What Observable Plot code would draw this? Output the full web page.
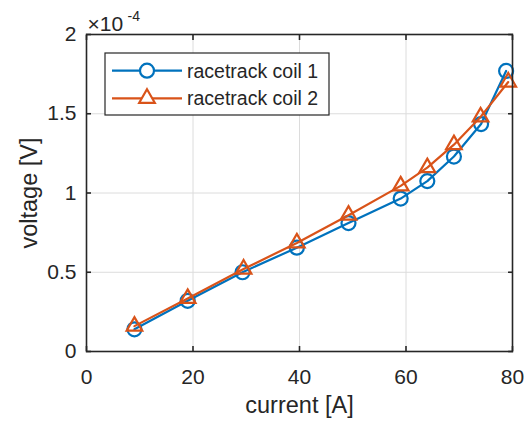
<!DOCTYPE html>
<html><head><meta charset="utf-8">
<script src="https://cdn.jsdelivr.net/npm/d3@7"></script>
<script src="https://cdn.jsdelivr.net/npm/@observablehq/plot@0.6"></script>
<style>html,body{margin:0;padding:0;background:#fff;} #chart{width:528px;height:421px;}</style>
</head><body><div id="chart"></div>
<script>
// current [A] and voltage [×10^-4 V]
const current1 = [9, 19, 29.3, 39.5, 49.2, 59, 64, 69, 74.1, 78.8];
const voltage1 = [0.14, 0.32, 0.50, 0.655, 0.81, 0.965, 1.075, 1.23, 1.435, 1.77];
const current2 = [9, 19, 29.5, 39.5, 49.2, 59, 64, 69, 74, 79.2];
const voltage2 = [0.16, 0.335, 0.52, 0.685, 0.86, 1.045, 1.16, 1.305, 1.48, 1.70];
const seriesNames = ["racetrack coil 1", "racetrack coil 2"];
const xTicks = [0, 20, 40, 60, 80];
const yTicks = [0, 0.5, 1, 1.5, 2];
const yTickLabels = ["0", "0.5", "1", "1.5", "2"];
const xLabel = "current [A]";
const yLabel = "voltage [V]";
const exponentBase = "×10";
const exponentPower = "-4";

const colors = ["#0072BD", "#D95319"];
const ink = "#262626";
const font = "'Liberation Sans', Arial, Helvetica, sans-serif";
const circleR = 7, triR = 5.8, lw = 2.2;

const data1 = current1.map((x, i) => ({x, y: voltage1[i]}));
const data2 = current2.map((x, i) => ({x, y: voltage2[i]}));

const plot = Plot.plot({
  width: 528, height: 421,
  marginLeft: 86, marginRight: 16, marginTop: 34, marginBottom: 70,
  style: {fontFamily: font, color: ink, background: "white", overflow: "visible"},
  x: {domain: [0, 80]},
  y: {domain: [0, 2]},
  marks: [
    Plot.gridX(xTicks, {stroke: "#dcdcdc", strokeOpacity: 1, strokeWidth: 1}),
    Plot.gridY(yTicks, {stroke: "#dcdcdc", strokeOpacity: 1, strokeWidth: 1}),
    Plot.line(data1, {x: "x", y: "y", stroke: colors[0], strokeWidth: lw}),
    Plot.dot(data1, {x: "x", y: "y", r: circleR, stroke: colors[0], strokeWidth: lw, fill: "none"}),
    Plot.line(data2, {x: "x", y: "y", stroke: colors[1], strokeWidth: lw}),
    Plot.dot(data2, {x: "x", y: "y", symbol: "triangle", r: triR, stroke: colors[1], strokeWidth: lw, fill: "none"}),
    Plot.frame({stroke: ink, strokeWidth: 1.6}),
    Plot.axisX(xTicks, {anchor: "bottom", tickSize: -5, tickPadding: 23, fontSize: 21, label: null, stroke: ink, strokeWidth: 1.6}),
    Plot.axisX(xTicks, {anchor: "top", tickSize: -5, tickFormat: () => "", label: null, stroke: ink, strokeWidth: 1.6}),
    Plot.axisY(yTicks, {anchor: "left", tickSize: -5, tickPadding: 15, fontSize: 21, tickFormat: (d) => yTickLabels[yTicks.indexOf(d)], label: null, stroke: ink, strokeWidth: 1.6}),
    Plot.axisY(yTicks, {anchor: "right", tickSize: -5, tickFormat: () => "", label: null, stroke: ink, strokeWidth: 1.6}),
    Plot.text([xLabel], {frameAnchor: "bottom", text: d => d, textAnchor: "middle", lineAnchor: "middle", dy: 54, fontSize: 23.5, fill: ink}),
    Plot.text([yLabel], {frameAnchor: "left", text: d => d, textAnchor: "middle", lineAnchor: "middle", rotate: -90, dx: -57, fontSize: 23.5, fill: ink}),
    Plot.text([exponentBase], {frameAnchor: "top-left", text: d => d, textAnchor: "start", lineAnchor: "bottom", dx: 1, dy: -4, fontSize: 21, fill: ink}),
    Plot.text([exponentPower], {frameAnchor: "top-left", text: d => d, textAnchor: "start", lineAnchor: "bottom", dx: 41, dy: -14, fontSize: 14, fill: ink})
  ]
});
document.getElementById("chart").appendChild(plot);

// legend box
const svg = d3.select(plot);
const lg = svg.append("g").attr("transform", "translate(105,53)");
lg.append("rect").attr("width", 224).attr("height", 62).attr("fill", "white").attr("stroke", ink).attr("stroke-width", 1.2);
seriesNames.forEach((name, i) => {
  const g = lg.append("g").attr("transform", `translate(0,${17.7 + i * 27.6})`);
  g.append("line").attr("x1", 7).attr("x2", 77).attr("stroke", colors[i]).attr("stroke-width", lw);
  const sym = i === 0 ? d3.symbol(d3.symbolCircle, Math.PI * circleR * circleR) : d3.symbol(d3.symbolTriangle, Math.PI * triR * triR);
  g.append("path").attr("d", sym()).attr("transform", "translate(42,0)").attr("fill", "white").attr("stroke", colors[i]).attr("stroke-width", lw);
  g.append("text").attr("x", 82).attr("dy", "0.35em").attr("text-anchor", "start").attr("font-size", 19.5).attr("fill", ink).attr("font-family", font).text(name);
});
</script>
</body></html>
